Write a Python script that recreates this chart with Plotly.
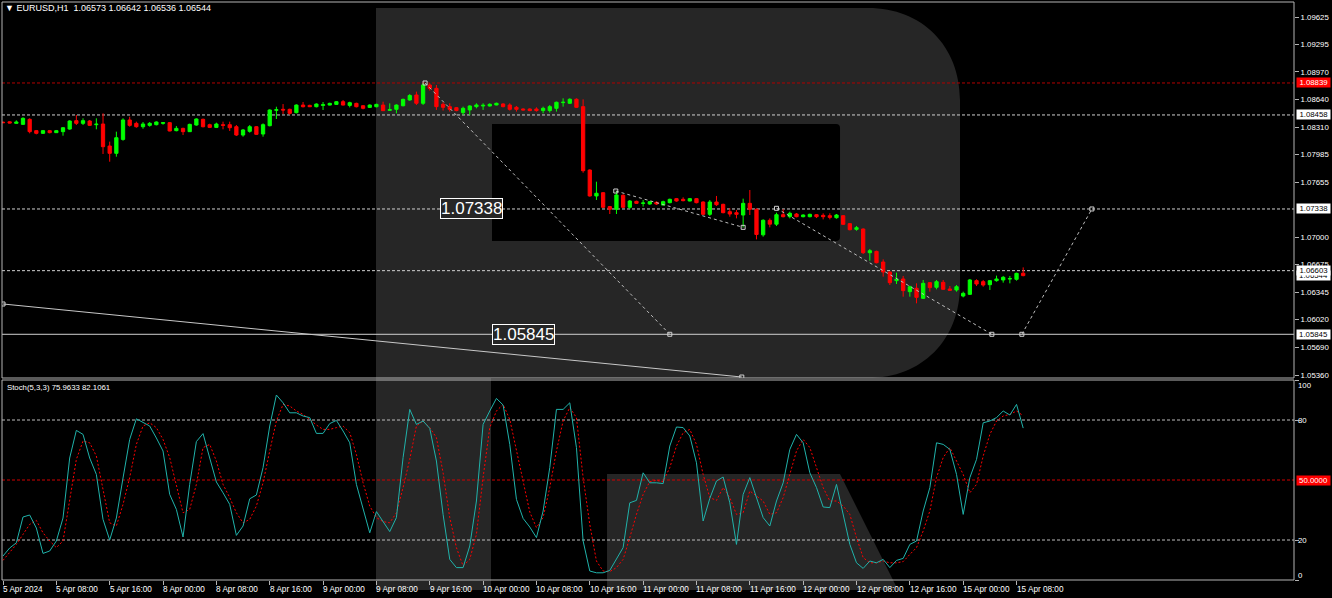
import plotly.graph_objects as go

# ---------------- data ----------------
bar_open = [1.08372,1.08376,1.08358,1.08346,1.08406,1.08271,1.08239,1.08271,1.08247,1.08259,
            1.08290,1.08390,1.08358,1.08386,1.08342,1.08350,1.08088,1.08001,1.08167,1.08398,
            1.08358,1.08318,1.08334,1.08342,1.08358,1.08366,1.08271,1.08298,1.08259,1.08338,
            1.08406,1.08342,1.08310,1.08342,1.08342,1.08318,1.08219,1.08263,1.08318,1.08231,
            1.08330,1.08513,1.08525,1.08525,1.08485,1.08576,1.08572,1.08556,1.08572,1.08576,
            1.08584,1.08616,1.08572,1.08596,1.08568,1.08548,1.08556,1.08576,1.08513,1.08525,
            1.08568,1.08636,1.08696,1.08597,1.08815,1.08775,1.08585,1.08557,1.08545,1.08486,
            1.08518,1.08557,1.08565,1.08565,1.08577,1.08589,1.08577,1.08549,1.08529,1.08529,
            1.08529,1.08510,1.08510,1.08537,1.08605,1.08597,1.08645,1.08557,1.07802,1.07493,
            1.07532,1.07366,1.07334,1.07501,1.07358,1.07429,1.07405,1.07397,1.07417,1.07385,
            1.07413,1.07461,1.07453,1.07433,1.07461,1.07421,1.07274,1.07421,1.07393,1.07306,
            1.07294,1.07266,1.07405,1.07334,1.07030,1.07203,1.07157,1.07270,1.07246,1.07278,
            1.07246,1.07246,1.07270,1.07262,1.07258,1.07234,1.07258,1.07163,1.07095,1.07099,
            1.06817,1.06833,1.06706,1.06587,1.06484,1.06504,1.06353,1.06393,1.06273,1.06460,
            1.06405,1.06464,1.06385,1.06373,1.06301,1.06321,1.06484,1.06472,1.06436,1.06484,
            1.06492,1.06504,1.06500,1.06573]
bar_high = [1.08378,1.08382,1.08394,1.08430,1.08418,1.08279,1.08279,1.08279,1.08279,1.08314,
            1.08394,1.08457,1.08418,1.08398,1.08418,1.08477,1.08140,1.08259,1.08418,1.08437,
            1.08378,1.08374,1.08374,1.08382,1.08374,1.08374,1.08326,1.08306,1.08354,1.08418,
            1.08414,1.08354,1.08366,1.08378,1.08378,1.08338,1.08291,1.08338,1.08326,1.08358,
            1.08525,1.08556,1.08588,1.08533,1.08584,1.08612,1.08580,1.08596,1.08612,1.08604,
            1.08624,1.08636,1.08616,1.08604,1.08576,1.08584,1.08592,1.08616,1.08596,1.08584,
            1.08652,1.08707,1.08736,1.08839,1.08835,1.08815,1.08609,1.08597,1.08553,1.08557,
            1.08573,1.08597,1.08597,1.08597,1.08605,1.08597,1.08597,1.08565,1.08537,1.08537,
            1.08549,1.08557,1.08577,1.08617,1.08656,1.08656,1.08656,1.08644,1.07810,1.07663,
            1.07540,1.07374,1.07552,1.07513,1.07445,1.07437,1.07445,1.07433,1.07429,1.07437,
            1.07461,1.07469,1.07477,1.07469,1.07469,1.07429,1.07445,1.07493,1.07401,1.07346,
            1.07326,1.07461,1.07564,1.07346,1.07215,1.07226,1.07294,1.07334,1.07306,1.07290,
            1.07274,1.07282,1.07278,1.07286,1.07286,1.07278,1.07266,1.07171,1.07135,1.07107,
            1.06861,1.06841,1.06738,1.06595,1.06579,1.06540,1.06424,1.06452,1.06492,1.06468,
            1.06492,1.06492,1.06420,1.06432,1.06353,1.06504,1.06500,1.06492,1.06492,1.06544,
            1.06540,1.06540,1.06579,1.06642]
bar_low = [1.08362,1.08358,1.08354,1.08338,1.08239,1.08227,1.08231,1.08239,1.08243,1.08211,
           1.08282,1.08338,1.08338,1.08326,1.08287,1.07993,1.07901,1.07961,1.08151,1.08318,
           1.08306,1.08294,1.08318,1.08334,1.08342,1.08263,1.08263,1.08219,1.08255,1.08330,
           1.08310,1.08302,1.08302,1.08287,1.08267,1.08207,1.08199,1.08247,1.08219,1.08199,
           1.08322,1.08410,1.08469,1.08461,1.08477,1.08548,1.08552,1.08548,1.08517,1.08572,
           1.08580,1.08572,1.08548,1.08548,1.08525,1.08541,1.08548,1.08505,1.08509,1.08477,
           1.08560,1.08628,1.08577,1.08577,1.08748,1.08518,1.08510,1.08498,1.08502,1.08458,
           1.08458,1.08537,1.08518,1.08557,1.08573,1.08549,1.08510,1.08498,1.08510,1.08502,
           1.08498,1.08478,1.08486,1.08498,1.08557,1.08589,1.08541,1.07770,1.07485,1.07445,
           1.07350,1.07278,1.07278,1.07350,1.07338,1.07397,1.07366,1.07389,1.07385,1.07378,
           1.07405,1.07425,1.07429,1.07429,1.07405,1.07266,1.07254,1.07374,1.07286,1.07246,
           1.07226,1.07119,1.07266,1.06976,1.07008,1.07119,1.07135,1.07238,1.07226,1.07238,
           1.07238,1.07238,1.07230,1.07214,1.07214,1.07222,1.07147,1.07083,1.07079,1.06802,
           1.06722,1.06690,1.06532,1.06432,1.06444,1.06293,1.06293,1.06214,1.06265,1.06353,
           1.06381,1.06373,1.06361,1.06353,1.06285,1.06313,1.06420,1.06412,1.06373,1.06472,
           1.06460,1.06452,1.06484,1.06536]
bar_close = [1.08366,1.08362,1.08374,1.08418,1.08259,1.08239,1.08271,1.08247,1.08271,1.08306,
             1.08386,1.08358,1.08390,1.08334,1.08348,1.08080,1.08001,1.08187,1.08398,1.08334,
             1.08318,1.08350,1.08358,1.08374,1.08366,1.08267,1.08298,1.08259,1.08346,1.08410,
             1.08318,1.08310,1.08350,1.08334,1.08306,1.08219,1.08279,1.08318,1.08227,1.08342,
             1.08517,1.08521,1.08517,1.08477,1.08576,1.08556,1.08556,1.08588,1.08580,1.08596,
             1.08616,1.08576,1.08604,1.08556,1.08537,1.08576,1.08584,1.08509,1.08521,1.08576,
             1.08644,1.08690,1.08597,1.08815,1.08775,1.08557,1.08549,1.08525,1.08510,1.08537,
             1.08565,1.08577,1.08573,1.08585,1.08597,1.08557,1.08525,1.08525,1.08518,1.08510,
             1.08510,1.08537,1.08557,1.08609,1.08609,1.08645,1.08549,1.07794,1.07493,1.07525,
             1.07358,1.07334,1.07505,1.07358,1.07433,1.07405,1.07409,1.07425,1.07397,1.07425,
             1.07453,1.07433,1.07437,1.07461,1.07413,1.07274,1.07421,1.07389,1.07294,1.07278,
             1.07274,1.07405,1.07334,1.07034,1.07203,1.07157,1.07270,1.07246,1.07286,1.07246,
             1.07266,1.07274,1.07246,1.07246,1.07238,1.07266,1.07155,1.07091,1.07115,1.06817,
             1.06841,1.06698,1.06587,1.06460,1.06500,1.06365,1.06412,1.06285,1.06452,1.06401,
             1.06472,1.06381,1.06369,1.06412,1.06333,1.06492,1.06444,1.06432,1.06484,1.06504,
             1.06524,1.06508,1.06571,1.06544]

stoch_k = [12,16,18.6,31.5,32.5,26,13.3,14.5,19.5,31,61,74.8,72.8,61,52.8,30.3,20,31,51,70.3,
           80.6,79,77,71,64.5,42.8,35.3,21.5,47.8,69.2,73.2,61,49,43.6,37.8,22.3,27,40.6,42.5,56.2,
           77,92.5,88.6,83.6,83.6,82,81.2,73.3,73.3,78.2,79.8,74.5,68.6,47.8,36.2,23.6,34.2,29.5,24.2,31.2,
           61.2,85.3,77.8,79.5,75.8,59.5,32.8,10.3,6.2,6.2,17,39.5,77.8,84.5,90.8,87.5,67.8,40.3,30.8,26.5,
           21.2,34.5,56.2,85.3,85.3,88.6,66.2,19.5,4.5,3.6,3.6,4.8,10.3,16.2,38.6,39.8,53.6,48.6,48.6,48.2,
           67,76.5,76.2,72,58.6,29.5,40.8,49.5,51.5,38.6,17.8,42.8,51.2,41.2,31.2,27,39.5,48.6,65.3,72.8,
           68.6,53.6,46.2,36.5,36.2,47.8,32.8,17.8,8.6,5.8,9.5,8.6,10.3,6.2,9.8,10.8,17.8,19.5,34.5,46.2,
           68.6,67.8,65.3,52.8,32.8,51.2,60.3,78.6,79.5,81.2,84.5,82.5,87.8,75.96]
stoch_d = [9.8,13.6,17.8,22.8,27.8,29.8,23.6,19.5,16.2,19.5,39.5,60.3,69.5,68.6,62,46.2,28.6,27,37.8,51.2,
           67.8,77,78.6,76.2,70.3,61.2,47.8,33.6,35.3,47.8,66.2,67.8,59.5,47.8,41.2,33.6,28.6,30.3,37,48.6,
           64.5,79.5,87.8,87,84.5,82.8,80.3,77.5,75.3,75.3,76.2,77,73.7,62.8,48.6,37,31.2,29.2,28.6,33.6,
           46.2,60.3,77,79.5,76.2,71.2,53.6,31.2,16.2,7,10.3,22.8,51.2,76.2,84.5,87.8,80.3,65.3,48.6,34,
           26.2,31.2,46.2,64.5,79.5,86.2,81.2,51.2,27.8,9.5,4.5,4.2,6.2,10.3,21.2,32.8,42.8,49.2,49.8,49.2,
           56.2,67,73.6,75.3,67.8,52.8,41.2,39.8,46.2,41.2,32.8,33.6,44.5,42,39.5,32.8,33.6,41.2,52.8,64.5,
           70.3,66.2,56.2,46.2,39.5,39.5,37,32.8,21.2,11.2,8.6,8.6,9.5,8.6,8.6,9.2,12.8,16.2,24.5,34.5,
           51.2,61.2,66.2,59.5,52.8,43.6,47.8,62,72.8,79.5,82,82.8,84.5,82.11]

date_ticks = [0, 8, 16, 24, 32, 40, 48, 56, 64, 72, 80, 88, 96, 104, 112, 120, 128, 136, 144, 152]
date_labels = ["5 Apr 2024", "5 Apr 08:00", "5 Apr 16:00", "8 Apr 00:00", "8 Apr 08:00", "8 Apr 16:00",
               "9 Apr 00:00", "9 Apr 08:00", "9 Apr 16:00", "10 Apr 00:00", "10 Apr 08:00", "10 Apr 16:00",
               "11 Apr 00:00", "11 Apr 08:00", "11 Apr 16:00", "12 Apr 00:00", "12 Apr 08:00", "12 Apr 16:00",
               "15 Apr 00:00", "15 Apr 08:00"]
price_ticks = [1.09625, 1.09295, 1.08970, 1.08640, 1.08310, 1.07985, 1.07655,
               1.07000, 1.06675, 1.06345, 1.06020, 1.05690, 1.05360]

level_high = 1.08839
level_res = 1.08458
level_mid = 1.07338
level_cur = 1.06603
level_bid = 1.06544
level_sup = 1.05845
trend_x = [0, 110.8]
trend_y = [1.06206, 1.05336]
proj1_x = [63.3, 100.0]; proj1_y = [1.08839, 1.05845]
proj2_x = [91.9, 111.0]; proj2_y = [1.07552, 1.07119]
proj3_x = [116.0, 148.3]; proj3_y = [1.07346, 1.05845]
proj4_x = [152.8, 163.3]; proj4_y = [1.05845, 1.07338]

# ---------------- geometry ----------------
W, H = 1332, 598
PX0, PX1 = 2, 1294
PY0, PY1 = 2, 580
BAR0, BARW = 3.0, 6.668
X_RANGE = [(PX0 - BAR0) / BARW, (PX1 - BAR0) / BARW]
P_RANGE = [1.053243, 1.098037]
MAIN_DOM = [(PY1 - 378) / (PY1 - PY0), 1.0]
STO_DOM = [0.0, (PY1 - 380) / (PY1 - PY0)]

def fx(px):
    return (px - PX0) / (PX1 - PX0)

def fy(py):
    return (PY1 - py) / (PY1 - PY0)

def pth(cmds):
    out = []
    for c in cmds:
        if isinstance(c, str):
            out.append(c)
        else:
            out.append("%.5f,%.5f" % (fx(c[0]), fy(c[1])))
    return " ".join(out)

FONT = "Liberation Sans"
WM = "#262626"
xs = list(range(len(bar_open)))

fig = go.Figure()

fig.add_trace(go.Candlestick(
    x=xs, open=bar_open, high=bar_high, low=bar_low, close=bar_close,
    increasing=dict(line=dict(color="#00ff00", width=1), fillcolor="#00ff00"),
    decreasing=dict(line=dict(color="#ff0000", width=1), fillcolor="#ff0000"),
    xaxis="x", yaxis="y", showlegend=False, hoverinfo="skip"))

for xx, yy in [(proj1_x, proj1_y), (proj2_x, proj2_y), (proj3_x, proj3_y), (proj4_x, proj4_y)]:
    fig.add_trace(go.Scatter(x=xx, y=yy, mode="lines+markers",
                             line=dict(color="#bdbdbd", width=1, dash="3px,3px"),
                             marker=dict(symbol="square-open", size=4, color="#d0d0d0"),
                             xaxis="x", yaxis="y", showlegend=False, hoverinfo="skip"))
fig.add_trace(go.Scatter(x=trend_x, y=trend_y, mode="lines+markers",
                         line=dict(color="#c8c8c8", width=1),
                         marker=dict(symbol="square-open", size=4, color="#d0d0d0"),
                         xaxis="x", yaxis="y", showlegend=False, hoverinfo="skip"))

fig.add_trace(go.Scatter(x=xs, y=stoch_d, mode="lines",
                         line=dict(color="#ff0000", width=1, dash="2px,2px"),
                         xaxis="x2", yaxis="y2", showlegend=False, hoverinfo="skip"))
fig.add_trace(go.Scatter(x=xs, y=stoch_k, mode="lines",
                         line=dict(color="#20b2aa", width=1),
                         xaxis="x2", yaxis="y2", showlegend=False, hoverinfo="skip"))

shapes = []
# watermark "R"
shapes.append(dict(type="path", xref="paper", yref="paper", layer="below", line=dict(width=0),
                   fillcolor=WM,
                   path=pth(["M", (376, 8), "L", (868, 8), "C", (922, 8), (960, 46), (960, 100),
                             "L", (960, 285), "C", (960, 340), (922, 378), (868, 378),
                             "L", (491, 378), "L", (491, 590), "L", (376, 590), "Z"])))
shapes.append(dict(type="path", xref="paper", yref="paper", layer="below", line=dict(width=0),
                   fillcolor="#000000",
                   path=pth(["M", (492, 124), "L", (836, 124), "Q", (840, 124), (840, 128),
                             "L", (840, 237), "Q", (840, 241), (836, 241), "L", (492, 241), "Z"])))
shapes.append(dict(type="path", xref="paper", yref="paper", layer="below", line=dict(width=0),
                   fillcolor=WM,
                   path=pth(["M", (607, 474), "L", (840, 474), "L", (898, 590), "L", (607, 590), "Z"])))

def hline(y, yref, color, dash, width=1):
    return dict(type="line", xref="paper", yref=yref, x0=0, x1=1, y0=y, y1=y, layer="below",
                line=dict(color=color, width=width, dash=dash))

shapes.append(hline(level_high, "y", "#b00000", "3px,2px"))
shapes.append(hline(level_res, "y", "#d0d0d0", "3px,2px"))
shapes.append(hline(level_mid, "y", "#d0d0d0", "3px,2px"))
shapes.append(hline(level_cur, "y", "#d0d0d0", "3px,2px"))
shapes.append(hline(level_sup, "y", "#d0d0d0", "solid"))
shapes.append(hline(80, "y2", "#bdbdbd", "3px,2px"))
shapes.append(hline(20, "y2", "#bdbdbd", "3px,2px"))
shapes.append(hline(50, "y2", "#d00000", "3px,2px"))

# pane frames
FR = "#b4b4b4"
shapes.append(dict(type="rect", xref="paper", yref="paper", x0=0, x1=1, y0=MAIN_DOM[0], y1=1,
                   line=dict(color=FR, width=1)))
shapes.append(dict(type="rect", xref="paper", yref="paper", x0=0, x1=1, y0=0, y1=STO_DOM[1],
                   line=dict(color=FR, width=1)))

ann = []
ann.append(dict(text="\u25bc EURUSD,H1  1.06573 1.06642 1.06536 1.06544", x=fx(3), y=fy(8),
                xref="paper", yref="paper", xanchor="left", yanchor="middle", showarrow=False,
                font=dict(family=FONT, size=9, color="#ffffff")))
ann.append(dict(text="Stoch(5,3,3) 75.9633 82.1061", x=fx(5), y=fy(387),
                xref="paper", yref="paper", xanchor="left", yanchor="middle", showarrow=False,
                font=dict(family=FONT, size=7.8, color="#ffffff")))
for t, lab in zip(date_ticks, date_labels):
    ann.append(dict(text=lab, x=t, y=0, xref="x2", yref="paper", xanchor="left", yanchor="top",
                    xshift=-2, yshift=-3, showarrow=False,
                    font=dict(family=FONT, size=8.2, color="#ffffff")))

def axbox(val, yref, text, bg, fg, yshift=0):
    return dict(text=text, x=1, y=val, xref="paper", yref=yref, xanchor="left", yanchor="middle",
                xshift=2, yshift=yshift, showarrow=False, bgcolor=bg, width=33, height=9,
                borderpad=0, font=dict(family=FONT, size=7.8, color=fg))

ann.append(axbox(level_bid, "y", "1.06544", "#ffffff", "#000000"))
ann.append(axbox(level_high, "y", "1.08839", "#ff0000", "#ffffff"))
ann.append(axbox(level_res, "y", "1.08458", "#ffffff", "#000000"))
ann.append(axbox(level_mid, "y", "1.07338", "#ffffff", "#000000"))
ann.append(axbox(level_cur, "y", "1.06603", "#ffffff", "#000000"))
ann.append(axbox(level_sup, "y", "1.05845", "#ffffff", "#000000"))
ann.append(axbox(50, "y2", "50.0000", "#ff0000", "#ffffff"))
for v, lab, sh in [(100, "100", -5), (80, "80", 0), (20, "20", 0), (0, "0", 5)]:
    ann.append(dict(text=lab, x=1, y=v, xref="paper", yref="y2", xanchor="left", yanchor="middle",
                    xshift=2, yshift=sh, showarrow=False,
                    font=dict(family=FONT, size=7.8, color="#ffffff")))

# big price labels on the chart
ann.append(dict(text="1.07338", x=70.2, y=level_mid, xref="x", yref="y", showarrow=False,
                font=dict(family=FONT, size=17, color="#ffffff"), bordercolor="#ffffff",
                borderwidth=1, borderpad=0, bgcolor="#262626"))
ann.append(dict(text="1.05845", x=78.1, y=level_sup, xref="x", yref="y", showarrow=False,
                font=dict(family=FONT, size=17, color="#ffffff"), bordercolor="#ffffff",
                borderwidth=1, borderpad=0, bgcolor="#262626"))

fig.update_layout(
    template="none",
    width=W, height=H,
    margin=dict(l=PX0, r=W - PX1, t=PY0, b=H - PY1, pad=0, autoexpand=False),
    paper_bgcolor="#000000", plot_bgcolor="rgba(0,0,0,0)",
    showlegend=False,
    xaxis=dict(domain=[0, 1], anchor="y", range=X_RANGE, showgrid=False, zeroline=False,
               showticklabels=False, ticks="", rangeslider=dict(visible=False), automargin=False),
    yaxis=dict(domain=MAIN_DOM, anchor="x", side="right", range=P_RANGE, showgrid=False,
               zeroline=False, tickvals=price_ticks, ticktext=["%.5f" % v for v in price_ticks],
               ticks="outside", ticklen=4, tickcolor=FR, tickwidth=1,
               tickfont=dict(family=FONT, size=7.8, color="#ffffff"), automargin=False),
    xaxis2=dict(domain=[0, 1], anchor="y2", matches="x", range=X_RANGE, showgrid=False,
                zeroline=False, tickvals=date_ticks, showticklabels=False, ticks="outside",
                ticklen=4, tickcolor=FR, tickwidth=1, rangeslider=dict(visible=False),
                automargin=False),
    yaxis2=dict(domain=STO_DOM, anchor="x2", side="right", range=[0, 100], showgrid=False,
                zeroline=False, tickvals=[100, 80, 20, 0], showticklabels=False,
                ticks="outside", ticklen=4, tickcolor=FR, automargin=False),
    shapes=shapes, annotations=ann,
)

fig.write_html("out.html", config={"displayModeBar": False, "staticPlot": True},
               post_script="document.body.style.margin='0px';document.body.style.overflow='hidden';")
